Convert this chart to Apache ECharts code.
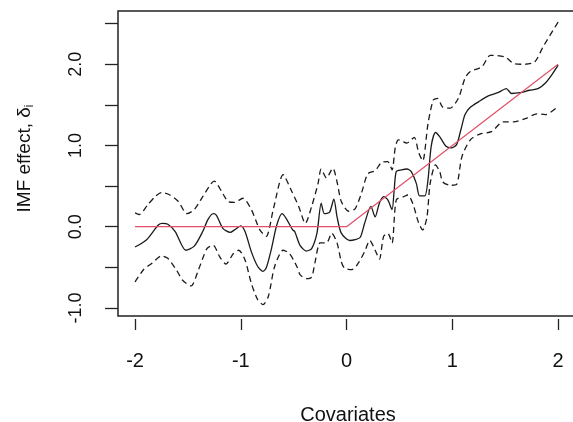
<!DOCTYPE html>
<html>
<head>
<meta charset="utf-8">
<script src="https://cdn.jsdelivr.net/npm/echarts@6/dist/echarts.min.js"></script>
<style>html,body{margin:0;padding:0;background:#fff}#c{width:573px;height:422px}</style>
</head>
<body>
<div id="c"></div>
<script>
// Data: [covariate, effect]
var estimate = [[-2.00,-0.25],[-1.89,-0.16],[-1.78,0.02],[-1.74,0.04],[-1.69,0.03],[-1.62,-0.06],[-1.52,-0.29],[-1.44,-0.24],[-1.36,-0.06],[-1.31,0.09],[-1.26,0.16],[-1.23,0.14],[-1.17,-0.02],[-1.10,-0.07],[-1.06,-0.04],[-1.00,0.01],[-0.96,-0.06],[-0.90,-0.31],[-0.84,-0.49],[-0.79,-0.55],[-0.76,-0.51],[-0.71,-0.27],[-0.66,0.02],[-0.61,0.16],[-0.57,0.10],[-0.51,-0.04],[-0.49,-0.06],[-0.44,-0.23],[-0.38,-0.30],[-0.33,-0.27],[-0.28,-0.08],[-0.24,0.29],[-0.21,0.16],[-0.16,0.18],[-0.12,0.34],[-0.09,0.12],[-0.05,-0.08],[0.03,-0.17],[0.08,-0.16],[0.13,-0.13],[0.17,0.04],[0.23,0.25],[0.27,0.12],[0.31,0.29],[0.35,0.37],[0.39,0.33],[0.43,0.21],[0.45,0.45],[0.47,0.68],[0.52,0.70],[0.57,0.71],[0.61,0.68],[0.66,0.53],[0.69,0.38],[0.74,0.38],[0.77,0.58],[0.80,0.99],[0.84,1.16],[0.88,1.11],[0.94,0.99],[0.99,0.97],[1.04,1.01],[1.08,1.19],[1.12,1.38],[1.17,1.47],[1.25,1.54],[1.34,1.61],[1.43,1.65],[1.51,1.70],[1.56,1.64],[1.64,1.65],[1.73,1.68],[1.81,1.70],[1.88,1.77],[1.94,1.87],[2.00,1.99]];
var upperBand = [[-2.00,0.17],[-1.96,0.15],[-1.88,0.27],[-1.81,0.37],[-1.75,0.42],[-1.67,0.39],[-1.59,0.31],[-1.51,0.16],[-1.44,0.21],[-1.36,0.37],[-1.28,0.53],[-1.25,0.56],[-1.18,0.43],[-1.12,0.31],[-1.06,0.30],[-0.98,0.35],[-0.90,0.21],[-0.82,-0.04],[-0.76,-0.12],[-0.69,0.23],[-0.60,0.64],[-0.52,0.44],[-0.45,0.24],[-0.39,0.04],[-0.33,0.25],[-0.27,0.53],[-0.24,0.71],[-0.19,0.60],[-0.13,0.72],[-0.09,0.55],[-0.05,0.31],[0.02,0.19],[0.08,0.22],[0.14,0.41],[0.20,0.65],[0.27,0.69],[0.33,0.79],[0.39,0.80],[0.43,0.70],[0.46,0.97],[0.49,1.07],[0.57,1.03],[0.64,1.10],[0.68,0.92],[0.72,0.81],[0.77,1.27],[0.82,1.56],[0.86,1.58],[0.91,1.47],[0.98,1.46],[1.06,1.59],[1.12,1.83],[1.17,1.91],[1.28,1.97],[1.36,2.11],[1.50,2.09],[1.58,2.01],[1.69,2.00],[1.78,2.03],[1.86,2.22],[2.00,2.52]];
var lowerBand = [[-2.00,-0.68],[-1.92,-0.53],[-1.84,-0.45],[-1.75,-0.36],[-1.69,-0.39],[-1.61,-0.53],[-1.55,-0.66],[-1.47,-0.73],[-1.40,-0.53],[-1.32,-0.27],[-1.26,-0.23],[-1.20,-0.37],[-1.14,-0.46],[-1.07,-0.33],[-1.02,-0.29],[-0.96,-0.41],[-0.90,-0.70],[-0.84,-0.90],[-0.79,-0.96],[-0.74,-0.86],[-0.68,-0.49],[-0.60,-0.29],[-0.54,-0.33],[-0.47,-0.49],[-0.44,-0.59],[-0.38,-0.64],[-0.33,-0.62],[-0.30,-0.45],[-0.25,-0.20],[-0.19,-0.20],[-0.14,-0.08],[-0.09,-0.20],[-0.05,-0.43],[-0.02,-0.51],[0.05,-0.53],[0.11,-0.45],[0.17,-0.31],[0.22,-0.17],[0.27,-0.29],[0.31,-0.40],[0.35,-0.12],[0.39,-0.08],[0.43,-0.20],[0.47,0.33],[0.54,0.37],[0.58,0.39],[0.63,0.27],[0.68,0.05],[0.72,-0.04],[0.76,0.12],[0.79,0.53],[0.84,0.76],[0.88,0.68],[0.91,0.55],[0.98,0.51],[1.04,0.52],[1.09,0.86],[1.17,1.07],[1.26,1.14],[1.37,1.17],[1.48,1.29],[1.58,1.29],[1.69,1.33],[1.80,1.39],[1.88,1.38],[2.00,1.48]];
var truth = [[-2,0],[0,0],[2,2]];
var xTicks = [-2,-1,0,1,2];
var yTicks = [-1,-0.5,0,0.5,1,1.5,2,2.5];
var yLabels = [-1,0,1,2];
var xTitle = 'Covariates';

var FONT = 'Liberation Sans, Arial, sans-serif';
var chart = echarts.init(document.getElementById('c'), null, {renderer:'canvas'});
function lineSeries(data, color, type, width, z){
  return {type:'line', data:data, showSymbol:false, smooth:0.25, z:z,
    lineStyle:{color:color, type:type, width:width}, animation:false, silent:true};
}
chart.setOption({
  animation:false,
  grid:{left:118, top:11, width:460, height:305, outerBoundsMode:'none', containLabel:false,
    show:true, borderColor:'#222', borderWidth:1.5, backgroundColor:'transparent'},
  xAxis:{type:'value', min:-2.161, max:2.188, offset:3,
    axisLine:{show:false, onZero:false},
    axisTick:{show:true, length:11, customValues:xTicks, lineStyle:{color:'#222', width:1.3}},
    axisLabel:{customValues:xTicks, margin:32, fontSize:20, color:'#111', fontFamily:FONT, formatter:function(v){return String(v);}},
    splitLine:{show:false},
    name:xTitle, nameLocation:'middle', nameGap:86, nameTextStyle:{fontSize:20, color:'#111', fontFamily:FONT}
  },
  yAxis:{type:'value', min:-1.1, max:2.656,
    axisLine:{show:false, onZero:false},
    axisTick:{show:true, length:13, customValues:yTicks, lineStyle:{color:'#222', width:1.3}},
    axisLabel:{customValues:yLabels, rotate:90, margin:33, fontSize:18, color:'#111', fontFamily:FONT, formatter:function(v){return v.toFixed(1);}},
    splitLine:{show:false},
    name:'IMF effect, {g|δ}{s|i}', nameLocation:'middle', nameRotate:90, nameGap:82,
    nameTextStyle:{fontSize:19, color:'#111', fontFamily:FONT, padding:[0,0,0,10],
      rich:{g:{fontSize:19, fontFamily:FONT, color:'#111'}, s:{fontSize:12, fontFamily:FONT, color:'#111', padding:[10,0,0,0]}}}
  },
  series:[
    lineSeries(upperBand,'#1a1a1a',[6,4],1.3,2),
    lineSeries(lowerBand,'#1a1a1a',[6,4],1.3,2),
    lineSeries(estimate,'#1a1a1a','solid',1.3,3),
    {type:'line', data:truth, showSymbol:false, z:4, lineStyle:{color:'#E0506A', width:1.2}, animation:false, silent:true}
  ]
});
</script>
</body>
</html>
